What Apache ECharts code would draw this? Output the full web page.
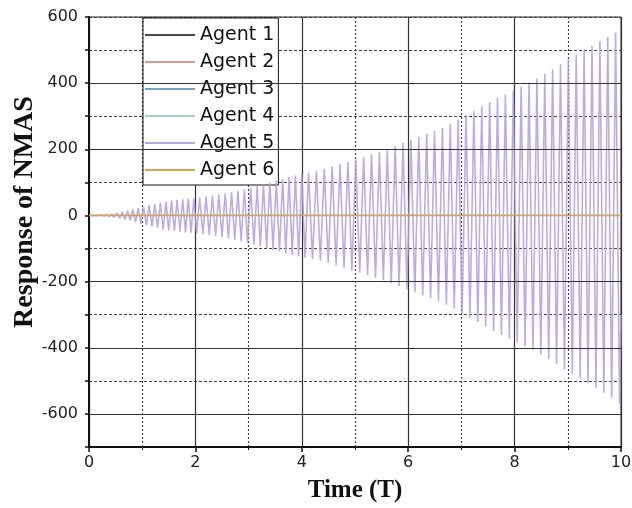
<!DOCTYPE html>
<html>
<head>
<meta charset="utf-8">
<script src="https://cdn.jsdelivr.net/npm/echarts@6/dist/echarts.min.js"></script>
<style>
  html, body { margin: 0; padding: 0; background: #fff; }
  #chart { width: 632px; height: 508px; }
</style>
</head>
<body>
<div id="chart"></div>
<script>
var agentNames = ['Agent 1', 'Agent 2', 'Agent 3', 'Agent 4', 'Agent 5', 'Agent 6'];
var agentColors = ['#4a4a4a', '#e0978a', '#6fa6cf', '#9dd3cb', '#b9a5dc', '#cfa84e'];

// the flat agents stay on zero the whole time
var agent1 = [[0, 0], [10, 0]];
var agent2 = [[0, 0], [10, 0]];
var agent3 = [[0, 0], [10, 0]];
var agent4 = [[0, 0], [10, 0]];
var agent6 = [[0, 0], [10, 0]];

// agent 5: peaks and troughs of the growing oscillation
var agent5 = [
  [0, 0],
  [0.025, 0.5], [0.075, -0.5], [0.125, 1], [0.175, -1], [0.225, 2], [0.275, -2],
  [0.325, 3], [0.375, -3.5], [0.425, 5], [0.475, -6], [0.525, 8], [0.575, -9],
  [0.625, 11], [0.675, -12], [0.725, 14], [0.775, -15], [0.825, 18], [0.875, -20],
  [0.925, 22], [0.975, -25],
  [1.026, 26], [1.079, -29], [1.131, 31], [1.184, -34], [1.236, 35], [1.289, -38],
  [1.341, 39], [1.394, -42], [1.446, 42], [1.499, -45], [1.551, 45], [1.604, -47],
  [1.656, 47], [1.709, -49], [1.761, 49], [1.814, -51], [1.866, 51], [1.919, -52],
  [1.971, 52], [2.024, -54],
  [2.08, 54], [2.14, -56], [2.20, 57], [2.26, -59], [2.32, 60], [2.38, -62],
  [2.44, 63], [2.50, -65], [2.56, 66], [2.62, -69], [2.68, 70], [2.74, -73],
  [2.80, 74], [2.86, -78], [2.92, 78], [2.98, -83], [3.04, 83], [3.10, -88],
  [3.16, 88], [3.22, -93], [3.28, 93], [3.34, -98], [3.40, 99], [3.46, -104],
  [3.52, 105], [3.58, -109], [3.64, 110], [3.70, -114], [3.76, 116], [3.82, -119],
  [3.88, 121], [3.94, -124], [4.00, 126], [4.06, -128],
  [4.127, 129], [4.201, -132], [4.275, 134], [4.349, -137], [4.423, 140], [4.497, -143],
  [4.571, 148], [4.645, -151], [4.719, 155], [4.793, -158], [4.867, 162], [4.941, -166],
  [5.015, 170], [5.089, -173], [5.163, 177], [5.237, -180], [5.311, 185], [5.385, -188],
  [5.459, 192], [5.533, -196], [5.607, 200], [5.681, -204], [5.755, 209], [5.829, -213],
  [5.903, 219], [5.977, -223], [6.051, 229], [6.125, -233], [6.199, 238], [6.273, -242],
  [6.347, 246], [6.421, -250], [6.495, 255], [6.569, -259], [6.643, 265], [6.717, -270],
  [6.791, 277], [6.865, -282], [6.939, 290], [7.013, -296], [7.087, 303], [7.161, -309],
  [7.235, 316], [7.309, -322], [7.383, 329], [7.457, -336], [7.531, 343], [7.605, -350],
  [7.679, 355], [7.753, -361], [7.827, 366], [7.901, -372], [7.975, 378], [8.049, -384],
  [8.123, 390], [8.197, -395], [8.271, 402], [8.345, -406], [8.419, 414], [8.493, -420],
  [8.567, 428], [8.641, -435], [8.715, 442], [8.789, -450], [8.863, 457], [8.937, -465],
  [9.011, 472], [9.085, -479], [9.159, 486], [9.233, -493], [9.307, 499], [9.381, -507],
  [9.455, 513], [9.529, -521], [9.603, 527], [9.677, -536], [9.751, 540], [9.825, -551],
  [9.899, 553], [9.973, -570],
  [10, -300]
];

// solid (major) grid lines; dotted ones come from the axis split lines
var yMajor = [-600, -400, -200, 0, 200, 400];

var chart = echarts.init(document.getElementById('chart'));

function flatSeries(i, data) {
  return {
    name: agentNames[i],
    type: 'line',
    data: data,
    showSymbol: false,
    symbol: 'none',
    lineStyle: { color: agentColors[i], width: 1 },
    itemStyle: { color: agentColors[i] },
    z: 3
  };
}

var option = {
  animation: false,
  backgroundColor: '#fff',
  textStyle: { fontFamily: 'DejaVu Sans' },
  grid: {
    left: 89, right: 11, top: 17, bottom: 61,
    outerBoundsMode: 'none',
    containLabel: false,
    show: true, borderColor: '#222', borderWidth: 1
  },
  legend: {
    data: agentNames,
    orient: 'vertical',
    left: 143, top: 18,
    icon: 'rect',
    itemWidth: 50, itemHeight: 2,
    itemGap: 5,
    padding: [6, 4, 4, 2],
    backgroundColor: '#fff',
    borderColor: '#111', borderWidth: 1,
    textStyle: { fontSize: 19, color: '#111', fontFamily: 'DejaVu Sans', lineHeight: 22 }
  },
  xAxis: {
    type: 'value',
    min: 0, max: 10, interval: 2,
    name: 'Time (T)',
    nameLocation: 'middle',
    nameGap: 31,
    nameMoveOverlap: false,
    nameTextStyle: { fontFamily: 'Liberation Serif', fontWeight: 'bold', fontSize: 25, color: '#111' },
    axisLine: { onZero: false, lineStyle: { color: '#111', width: 2 } },
    axisTick: { show: true, length: 5, lineStyle: { color: '#111', width: 1.5 } },
    minorTick: { show: true, splitNumber: 2, length: 3, lineStyle: { color: '#111' } },
    axisLabel: { fontSize: 16, color: '#222', margin: 8 },
    splitLine: { show: true, lineStyle: { color: '#333', width: 1.2, type: 'solid' } },
    minorSplitLine: { show: true, lineStyle: { color: '#444', width: 1.2, type: [2, 2] } }
  },
  yAxis: {
    type: 'value',
    min: -700, max: 600, interval: 100,
    name: 'Response of NMAS',
    nameLocation: 'middle',
    nameGap: 50,
    nameMoveOverlap: false,
    nameTextStyle: {
      fontFamily: 'Liberation Serif', fontWeight: 'bold', fontSize: 28, color: '#111',
      padding: [0, 0, 0, 40]
    },
    axisLine: { show: true, onZero: false, lineStyle: { color: '#111', width: 2 } },
    axisTick: { show: true, length: 4, lineStyle: { color: '#111', width: 1.5 } },
    axisLabel: {
      fontSize: 16, color: '#222', margin: 11,
      formatter: function (v) { return v % 200 === 0 ? String(v) : ''; }
    },
    splitLine: { show: true, lineStyle: { color: '#444', width: 1.2, type: [3, 2] } }
  },
  series: [
    {
      name: 'grid-major',
      type: 'line',
      data: [],
      silent: true,
      z: 1,
      markLine: {
        silent: true,
        symbol: 'none',
        label: { show: false },
        lineStyle: { color: '#333', width: 1.2, type: 'solid' },
        data: yMajor.map(function (v) { return { yAxis: v }; })
      }
    },
    flatSeries(0, agent1),
    flatSeries(1, agent2),
    flatSeries(2, agent3),
    flatSeries(3, agent4),
    {
      name: agentNames[4],
      type: 'line',
      data: agent5,
      showSymbol: false,
      symbol: 'none',
      lineStyle: { color: '#b19edc', width: 1.6, opacity: 0.85 },
      itemStyle: { color: agentColors[4] },
      z: 4
    },
    Object.assign(flatSeries(5, agent6), { z: 5, lineStyle: { color: agentColors[5], width: 1.5 } })
  ]
};

chart.setOption(option);
</script>
</body>
</html>
